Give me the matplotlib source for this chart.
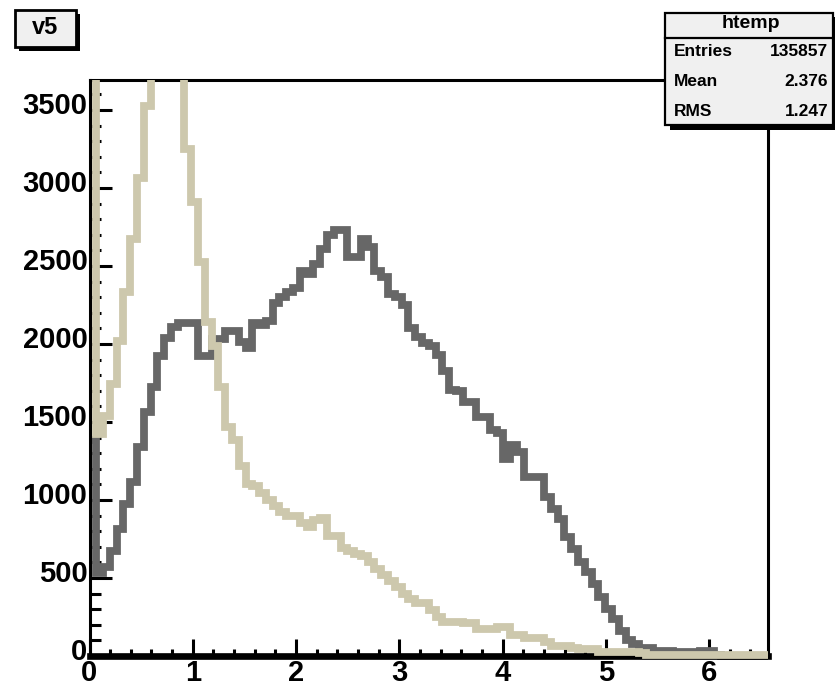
import numpy as np
import matplotlib.pyplot as plt
from matplotlib.patches import Rectangle
from matplotlib.lines import Line2D
from matplotlib.ticker import MultipleLocator
from matplotlib.transforms import ScaledTranslation

W, H = 835, 689

x_lo, x_hi = 0.0, 6.57
y_top = 3692

# bin contents (100 bins, 0 .. 6.57)
counts_grey = [
    1385, 530, 570, 670, 814, 974, 1117, 1340, 1564, 1724,
    1925, 2040, 2107, 2133, 2133, 2133, 1923, 1923, 2030, 2030,
    2083, 2083, 2010, 1975, 2135, 2120, 2145, 2260, 2300, 2330,
    2360, 2470, 2450, 2510, 2610, 2700, 2730, 2730, 2560, 2560,
    2670, 2620, 2470, 2430, 2320, 2300, 2250, 2103, 2045, 2006,
    1990, 1930, 1827, 1705, 1700, 1630, 1630, 1530, 1530, 1450,
    1430, 1260, 1350, 1310, 1150, 1147, 1147, 1020, 942, 878,
    763, 686, 602, 538, 462, 380, 301, 237, 160, 100,
    77, 50, 50, 35, 30, 30, 25, 25, 25, 25,
    30, 30, 5, 0, 0, 0, 0, 0, 0, 0,
]
# the peak bins go past the top of the frame, their heights are guesses
counts_beige = [
    6000, 1420, 1540, 1744, 2019, 2330, 2673, 3067, 3526, 4300,
    4900, 5100, 4700, 3900, 3250, 2910, 2526, 2140, 1990, 1724,
    1468, 1385, 1218, 1103, 1090, 1045, 1000, 960, 923, 900,
    897, 850, 830, 870, 885, 770, 770, 690, 670, 654,
    640, 600, 560, 520, 480, 440, 400, 365, 340, 340,
    295, 250, 220, 218, 218, 210, 210, 173, 173, 170,
    185, 185, 135, 135, 115, 115, 115, 90, 64, 64,
    64, 50, 45, 45, 45, 25, 25, 25, 25, 25,
    25, 20, 5, 5, 5, 5, 5, 5, 5, 5,
    5, 5, 5, 5, 5, 5, 5, 5, 5, 5,
]

panel_title = "v5"
stats_title = "htemp"
stats_names = ["Entries", "Mean", "RMS"]
stats_values = ["135857", "2.376", "1.247"]

GREY = "#676767"
BEIGE = "#cdc8ad"
BOX = "#f0f0f0"

plt.rcParams["font.family"] = ["Liberation Sans", "DejaVu Sans"]
plt.rcParams["font.weight"] = "bold"


def fx(px):
    return px / W


def fy(py):
    return 1 - py / H


fig = plt.figure(figsize=(W / 100, H / 100), dpi=100)
ax = fig.add_axes([fx(89.5), fy(656), (768 - 89.5) / W, (656 - 80) / H])

edges = np.linspace(x_lo, x_hi, len(counts_grey) + 1)
# clip a bit below the frame so the line at zero keeps its full width
clip = Rectangle((0, -0.03), 1, 1.03, transform=ax.transAxes)
for counts, col, z in [(counts_grey, GREY, 2), (counts_beige, BEIGE, 3)]:
    st = ax.stairs(counts, edges, baseline=None, color=col, lw=5.6, zorder=z)
    st.set_joinstyle("miter")
    st.set_capstyle("butt")
    st.set_clip_path(clip)

ax.set_xlim(x_lo, x_hi)
ax.set_ylim(0, y_top)

ax.xaxis.set_major_locator(MultipleLocator(1))
ax.xaxis.set_minor_locator(MultipleLocator(0.2))
ax.yaxis.set_major_locator(MultipleLocator(500))
ax.yaxis.set_minor_locator(MultipleLocator(100))
ax.tick_params(which="both", direction="in", top=False, right=False, width=2.2)
ax.tick_params(axis="y", which="major", length=16, pad=1.5, labelsize=21)
ax.tick_params(axis="y", which="minor", length=8)
ax.tick_params(axis="x", which="major", length=12, pad=2, labelsize=21)
ax.tick_params(axis="x", which="minor", length=5)

ax.set_yticks(np.arange(0, 3501, 500))
ax.set_xticks(np.arange(0, 7, 1))
for lab in ax.get_yticklabels():
    lab.set_transform(lab.get_transform() + ScaledTranslation(0, 0.07, fig.dpi_scale_trans))

for side in ["left", "top", "right"]:
    ax.spines[side].set_linewidth(2.2)
ax.spines["bottom"].set_linewidth(4.8)

# title box top left
fig.add_artist(Rectangle((fx(19), fy(51)), 61 / W, 37 / H, transform=fig.transFigure,
                         facecolor="black", edgecolor="none", zorder=5))
fig.add_artist(Rectangle((fx(15), fy(47)), 61 / W, 37 / H, transform=fig.transFigure,
                         facecolor=BOX, edgecolor="black", lw=2, zorder=6))
fig.text(fx(45.5), fy(27), panel_title, ha="center", va="center", fontsize=17, zorder=7)

# stats box top right
fig.add_artist(Rectangle((fx(670), fy(130)), 170 / W, 113 / H, transform=fig.transFigure,
                         facecolor="black", edgecolor="none", zorder=5))
fig.add_artist(Rectangle((fx(665), fy(125)), 168 / W, 112 / H, transform=fig.transFigure,
                         facecolor=BOX, edgecolor="black", lw=1.6, zorder=6))
fig.add_artist(Line2D([fx(665), fx(833)], [fy(38), fy(38)], transform=fig.transFigure,
                      color="black", lw=1.6, zorder=7))
fig.text(fx(751), fy(24), stats_title, ha="center", va="center", fontsize=14, zorder=7)
for i, (name, val) in enumerate(zip(stats_names, stats_values)):
    py = 51 + 30 * i
    fig.text(fx(674), fy(py), name, ha="left", va="center", fontsize=12.5, zorder=7)
    fig.text(fx(828), fy(py), val, ha="right", va="center", fontsize=12.5, zorder=7)

fig.savefig("out.png", dpi=100)
